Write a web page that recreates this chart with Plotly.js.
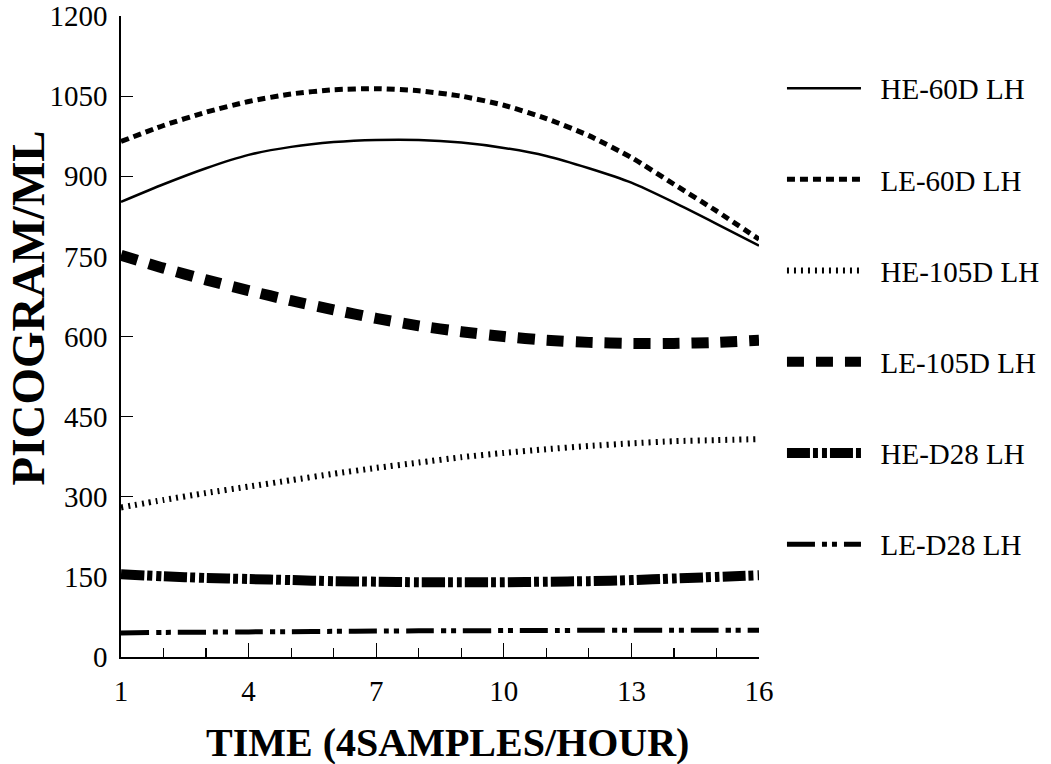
<!DOCTYPE html>
<html>
<head>
<meta charset="utf-8">
<script src="https://cdn.plot.ly/plotly-3.0.1.min.js"></script>
<style>
  html, body { margin: 0; padding: 0; background: #fff; }
  #chart { width: 1051px; height: 764px; }
</style>
</head>
<body>
<div id="chart"></div>
<script>
// Sample index (4 samples per hour)
const time = [1, 2, 3, 4, 5, 6, 7, 8, 9, 10, 11, 12, 13, 14, 15, 16];

// LH concentration, picogram/mL
const he60d  = [852, 885, 915, 940, 955, 964, 968, 968, 963, 953, 938, 915, 888, 851, 811, 770];
const le60d  = [965, 995, 1020, 1040, 1054, 1062, 1064, 1060, 1050, 1033, 1008, 976, 935, 885, 835, 782];
const he105d = [280, 294, 307, 319, 331, 343, 354, 364, 374, 382, 389, 395, 400, 404, 406, 408];
const le105d = [752, 728, 706, 686, 667, 650, 634, 620, 609, 600, 593, 589, 587, 587, 589, 593];
const heD28  = [155, 151, 148, 146, 144, 142, 141, 140, 140, 140, 141, 142, 144, 147, 150, 153];
const leD28  = [45, 46, 46.5, 47, 47.5, 48, 48.5, 49, 49, 49.5, 49.5, 50, 50, 50, 50, 50];

const seriesNames = ["HE-60D LH", "LE-60D LH", "HE-105D LH", "LE-105D LH", "HE-D28 LH", "LE-D28 LH"];
const seriesValues = [he60d, le60d, he105d, le105d, heD28, leD28];

const xTicks = [1, 4, 7, 10, 13, 16];
const yTicks = [0, 150, 300, 450, 600, 750, 900, 1050, 1200];

const lineStyles = [
  { width: 2.5, dash: "solid" },
  { width: 5,   dash: "8px,5px" },
  { width: 6,   dash: "2px,5px" },
  { width: 11,  dash: "17px,12px" },
  { width: 10,  dash: "23px,3px,5px,4px,5px,3px" },
  { width: 5,   dash: "28px,7px,5px,5px,5px,7px" }
];

// an en space keeps the legend labels clear of their line samples
const traces = seriesNames.map((name, i) => ({
  type: "scatter",
  mode: "lines",
  x: time,
  y: seriesValues[i],
  name: "\u2002" + name,
  legendgroup: "g" + i,
  line: { color: "#000", width: lineStyles[i].width, dash: lineStyles[i].dash, shape: "spline", smoothing: 0.6 },
  hoverinfo: "skip"
}));

const serif = "Liberation Serif, Times New Roman, serif";

const layout = {
  width: 1051,
  height: 764,
  paper_bgcolor: "#fff",
  plot_bgcolor: "#fff",
  margin: { l: 121, r: 292, t: 16, b: 107, autoexpand: false },
  font: { family: serif, color: "#000", size: 29 },
  showlegend: true,
  legend: {
    x: 1.036, xanchor: "left",
    y: 0.927, yanchor: "top",
    xref: "paper", yref: "paper",
    font: { family: serif, size: 29, color: "#000" },
    itemwidth: 74,
    tracegroupgap: 50.5,
    bgcolor: "rgba(0,0,0,0)",
    itemclick: false
  },
  xaxis: {
    range: [1, 16],
    tickmode: "array",
    tickvals: xTicks,
    ticktext: xTicks.map(String),
    ticks: "inside",
    ticklen: 14,
    tickwidth: 1.2,
    tickcolor: "#000",
    minor: { ticks: "inside", ticklen: 9, tickwidth: 1.2, tickcolor: "#000", dtick: 1, tick0: 1, showgrid: false },
    showline: true,
    linecolor: "#000",
    linewidth: 1.8,
    showgrid: false,
    zeroline: false,
    ticklabelstandoff: 7,
    tickfont: { family: serif, size: 29, color: "#000" }
  },
  yaxis: {
    range: [0, 1200],
    tickmode: "array",
    tickvals: yTicks,
    ticktext: yTicks.map(String),
    ticks: "inside",
    ticklen: 12,
    tickwidth: 1.2,
    tickcolor: "#000",
    showline: true,
    linecolor: "#000",
    linewidth: 1.8,
    showgrid: false,
    zeroline: false,
    ticklabelstandoff: 6,
    tickfont: { family: serif, size: 29, color: "#000" }
  },
  annotations: [
    {
      text: "<b>TIME (4SAMPLES/HOUR)</b>",
      xref: "paper", yref: "paper",
      x: 0.512, y: -0.095,
      xanchor: "center", yanchor: "top",
      showarrow: false,
      font: { family: serif, size: 40, color: "#000" }
    },
    {
      text: "<b>PICOGRAM/ML</b>",
      xref: "paper", yref: "paper",
      x: -0.19, y: 0.545,
      xanchor: "left", yanchor: "middle",
      textangle: -90,
      showarrow: false,
      font: { family: serif, size: 47, color: "#000" }
    }
  ]
};

Plotly.newPlot("chart", traces, layout, { displayModeBar: false, staticPlot: true });
</script>
</body>
</html>
